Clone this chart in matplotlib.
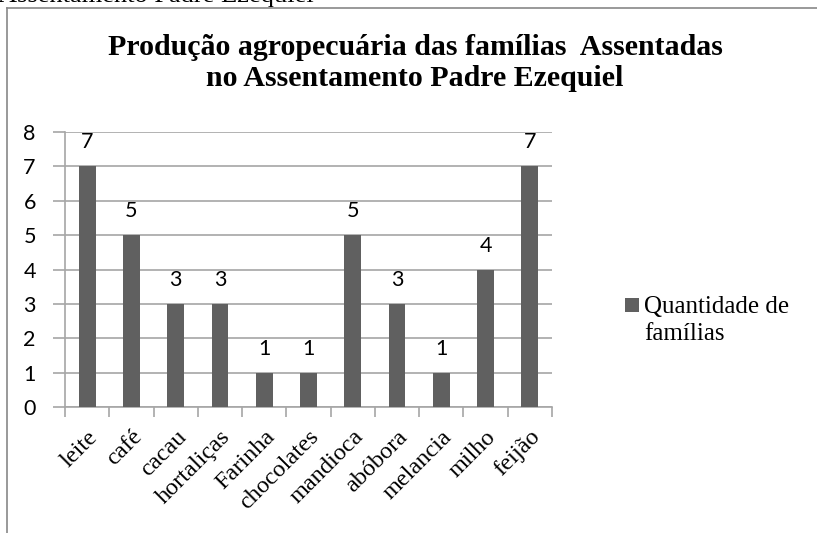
import matplotlib
matplotlib.use("Agg")
import matplotlib.pyplot as plt
from matplotlib.lines import Line2D
from matplotlib.patches import Rectangle

categories = ["leite", "café", "cacau", "hortaliças", "Farinha", "chocolates",
              "mandioca", "abóbora", "melancia", "milho", "feijão"]
values = [7, 5, 3, 3, 1, 1, 5, 3, 1, 4, 7]
series_lines = ["Quantidade de", "famílias"]
title_lines = ["Produção agropecuária das famílias  Assentadas",
               "no Assentamento Padre Ezequiel"]
header = "Assentamento Padre Ezequiel"

W, H = 817, 533
fig = plt.figure(figsize=(W / 100, H / 100), dpi=100)
fig.patch.set_facecolor("white")

ax = fig.add_axes([65 / W, 1 - 407 / H, (552 - 65) / W, (407 - 132) / H])
bar_color = "#606060"
grid_color = "#a6a6a6"

x = list(range(len(categories)))
ax.bar(x, values, width=0.38, color=bar_color, zorder=3)
ax.set_xlim(-0.5, len(categories) - 0.5)
ax.set_ylim(0, 8)
ax.set_yticks(range(0, 9))
ax.yaxis.grid(True, color=grid_color, linewidth=1.2, zorder=0)
ax.set_axisbelow(True)

for s in ["top", "right"]:
    ax.spines[s].set_visible(False)
for s in ["left", "bottom"]:
    ax.spines[s].set_color(grid_color)
    ax.spines[s].set_linewidth(1.2)

ax.tick_params(axis="y", length=9, width=1.2, color=grid_color, pad=12,
               labelsize=15.5)
for lab in ax.get_yticklabels():
    lab.set_fontfamily("Lato")

ax.set_xticks([i - 0.5 for i in range(len(categories) + 1)], minor=False)
ax.set_xticklabels([])
ax.set_xticks(x, minor=True)
ax.set_xticklabels(categories, minor=True, rotation=45, ha="right",
                   va="top", rotation_mode="anchor",
                   fontfamily="Liberation Serif", fontsize=17.5)
ax.tick_params(axis="x", which="major", length=7, width=1.2, color=grid_color)
ax.tick_params(axis="x", which="minor", length=0, pad=14)

for xi, v in zip(x, values):
    ax.annotate(str(v), (xi, v), xytext=(0, 10), textcoords="offset points",
                ha="center", va="bottom", fontsize=15.5, fontfamily="Lato")

fig.text(415 / W, 1 - 55 / H, title_lines[0], ha="center", va="baseline",
         fontfamily="Liberation Serif", fontweight="bold", fontsize=21.5)
fig.text(415 / W, 1 - 86 / H, title_lines[1], ha="center", va="baseline",
         fontfamily="Liberation Serif", fontweight="bold", fontsize=21.5)

# legend
fig.patches.append(Rectangle((625 / W, 1 - 312 / H), 14 / W, 14 / H,
                             transform=fig.transFigure, facecolor=bar_color,
                             edgecolor="none"))
fig.text(644 / W, 1 - 313 / H, series_lines[0], ha="left", va="baseline",
         fontfamily="Liberation Serif", fontsize=18)
fig.text(644 / W, 1 - 340 / H, series_lines[1], ha="left", va="baseline",
         fontfamily="Liberation Serif", fontsize=18)

# frame lines
fig.add_artist(Line2D([7 / W, 7 / W], [0, 1 - 8 / H], transform=fig.transFigure,
                      color="#888888", linewidth=1.2))
fig.add_artist(Line2D([7 / W, 1], [1 - 8 / H, 1 - 8 / H], transform=fig.transFigure,
                      color="#888888", linewidth=1.2))
fig.text(-2 / W, 1 - 2 / H, header, ha="left", va="baseline",
         fontfamily="Liberation Serif", fontsize=19)

fig.savefig("out.png", dpi=100, facecolor="white")
